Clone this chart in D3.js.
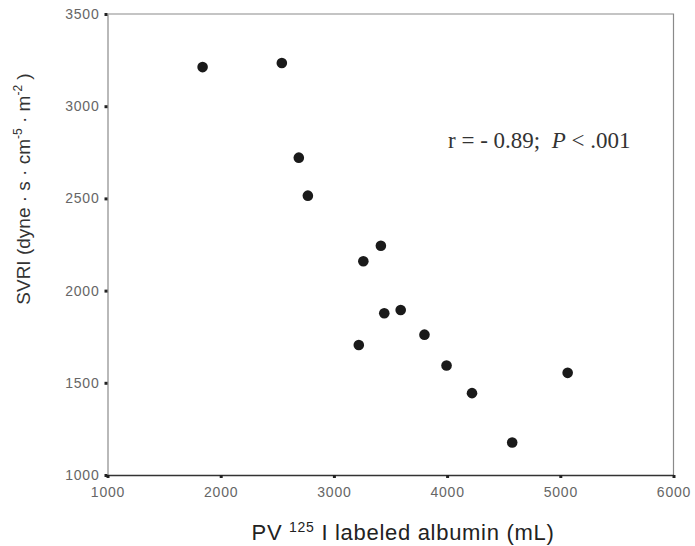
<!DOCTYPE html>
<html>
<head>
<meta charset="utf-8">
<script src="https://cdn.jsdelivr.net/npm/d3@7"></script>
<style>
  body { margin: 0; background: #fff; }
  .axis text { font-family: 'Liberation Sans', Arial, sans-serif; font-size: 14px; fill: #666; letter-spacing: 0.8px; }
</style>
</head>
<body>
<div id="chart"></div>
<script>
// plasma volume (mL) vs SVRI
const pvValues = [1840, 2540, 2690, 2770, 3415, 3260, 3445, 3590, 3800, 3220, 3995, 5065, 4220, 4575]
const svriValues = [3212, 3234, 2721, 2515, 2243, 2159, 1877, 1895, 1761, 1705, 1594, 1554, 1444, 1176]
const xTicks = [1000, 2000, 3000, 4000, 5000, 6000]
const yTicks = [1000, 1500, 2000, 2500, 3000, 3500]
const xDomain = [1000, 6000]
const yDomain = [1000, 3500]

const dimensions = {
  width: 695,
  height: 546,
  margins: { top: 14, right: 21.5, bottom: 71, left: 107.5 },
}
dimensions.ctrWidth = dimensions.width - dimensions.margins.left - dimensions.margins.right
dimensions.ctrHeight = dimensions.height - dimensions.margins.top - dimensions.margins.bottom

const data = pvValues.map((x, i) => ({ x, y: svriValues[i] }))

const svg = d3.select('#chart')
  .append('svg')
  .attr('width', dimensions.width)
  .attr('height', dimensions.height)

const ctr = svg.append('g')
  .attr('transform', `translate(${dimensions.margins.left}, ${dimensions.margins.top})`)

const xScale = d3.scaleLinear().domain(xDomain).range([0, dimensions.ctrWidth])
const yScale = d3.scaleLinear().domain(yDomain).range([dimensions.ctrHeight, 0])

// top + right frame lines
ctr.append('path')
  .attr('d', `M0,${yScale(yDomain[1])}H${xScale(xDomain[1])}V${yScale(yDomain[0])}`)
  .attr('fill', 'none')
  .attr('stroke', '#8a8a8a')
  .attr('stroke-width', 1.2)

const yAxis = d3.axisLeft(yScale)
  .tickValues(yTicks)
  .tickSize(3)
  .tickPadding(5)
  .tickSizeOuter(0)
  .tickFormat(d3.format('d'))

const yAxisGroup = ctr.append('g')
  .call(yAxis)
  .classed('axis', true)
yAxisGroup.select('.domain').attr('stroke', '#8a8a8a').attr('stroke-width', 1.2)
yAxisGroup.selectAll('.tick line').attr('stroke', '#222').attr('stroke-width', 3)

const xAxis = d3.axisBottom(xScale)
  .tickValues(xTicks)
  .tickSize(3)
  .tickPadding(9)
  .tickSizeOuter(0)
  .tickFormat(d3.format('d'))

const xAxisGroup = ctr.append('g')
  .attr('transform', `translate(0, ${dimensions.ctrHeight})`)
  .call(xAxis)
  .classed('axis', true)
xAxisGroup.select('.domain').attr('stroke', '#333').attr('stroke-width', 1.6)
xAxisGroup.selectAll('.tick line').attr('stroke', '#222').attr('stroke-width', 3)

// points
ctr.selectAll('circle')
  .data(data)
  .enter()
  .append('circle')
  .attr('cx', d => xScale(d.x))
  .attr('cy', d => yScale(d.y))
  .attr('r', 5.3)
  .attr('fill', '#1a1a1a')

// axis titles
const xTitle = svg.append('text')
  .attr('x', 403)
  .attr('y', 540)
  .attr('text-anchor', 'middle')
  .style('font-family', "'Liberation Sans', Arial, sans-serif")
  .style('font-size', '22px')
  .style('letter-spacing', '0.7px')
  .attr('fill', '#222')
xTitle.append('tspan').text('PV ')
xTitle.append('tspan').attr('dy', -8).style('font-size', '14px').text('125')
xTitle.append('tspan').attr('dy', 8).text(' I labeled albumin (mL)')

const yTitle = svg.append('text')
  .attr('transform', 'translate(30, 189) rotate(-90)')
  .attr('text-anchor', 'middle')
  .style('font-family', "'Liberation Sans', Arial, sans-serif")
  .style('font-size', '19px')
  .attr('fill', '#333')
yTitle.append('tspan').text('SVRI (dyne · s · cm')
yTitle.append('tspan').attr('dy', -8).style('font-size', '12px').text('-5')
yTitle.append('tspan').attr('dy', 8).text(' · m')
yTitle.append('tspan').attr('dy', -8).style('font-size', '12px').text('-2')
yTitle.append('tspan').attr('dy', 8).text(' )')

// correlation note
const note = svg.append('text')
  .attr('x', 448)
  .attr('y', 148)
  .style('font-family', "'Liberation Serif', 'Times New Roman', serif")
  .style('font-size', '23px')
  .attr('fill', '#333')
note.append('tspan').text('r = - 0.89;\u00a0\u00a0')
note.append('tspan').style('font-style', 'italic').text('P')
note.append('tspan').text(' < .001')
</script>
</body>
</html>
